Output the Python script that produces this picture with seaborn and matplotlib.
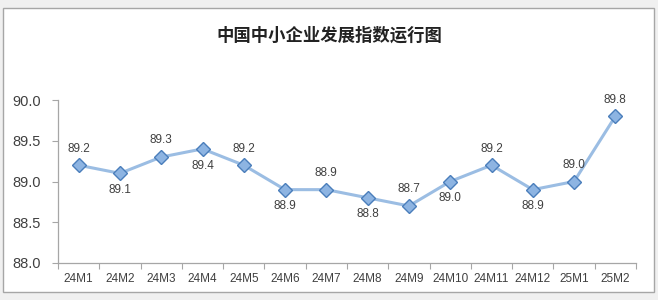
import matplotlib
matplotlib.use("Agg")
import matplotlib.pyplot as plt
import seaborn as sns
import pandas as pd
import numpy as np
from matplotlib.patches import Rectangle
from matplotlib import font_manager

months = ["24M1", "24M2", "24M3", "24M4", "24M5", "24M6", "24M7",
          "24M8", "24M9", "24M10", "24M11", "24M12", "25M1", "25M2"]
values = [89.2, 89.1, 89.3, 89.4, 89.2, 88.9, 88.9,
          88.8, 88.7, 89.0, 89.2, 88.9, 89.0, 89.8]
label_pos = ["above", "below", "above", "below", "above", "below", "above",
             "below", "above", "below", "above", "below", "above", "above"]
yticks = [88.0, 88.5, 89.0, 89.5, 90.0]

sns.set_theme(style="white")
plt.rcParams['font.family'] = ['Liberation Sans', 'DejaVu Sans']

installed = {f.name for f in font_manager.fontManager.ttflist}
narrow = "Liberation Sans Narrow" if "Liberation Sans Narrow" in installed else "Liberation Sans"
ytick_size = 12 if narrow == "Liberation Sans Narrow" else 10.5

df = pd.DataFrame({"month": months, "value": values})

fig = plt.figure(figsize=(6.58, 3.0), dpi=100)
fig.patch.set_facecolor("#f0f0f0")
frame = Rectangle((3/658, 8/300), 651/658, 284/300, transform=fig.transFigure,
                  facecolor="white", edgecolor="#a6a6a6", linewidth=1.0, zorder=-10)
fig.patches.append(frame)

ax = fig.add_axes([58/658, 1 - 263/300, (636 - 58)/658, (263 - 100)/300])
ax.set_zorder(5)
ax.set_facecolor("none")
ax.patch.set_alpha(0)
sns.lineplot(data=df, x="month", y="value", ax=ax, color="#9BBDE3", linewidth=2.2,
             marker="D", markersize=7, markerfacecolor="#8DB4E2",
             markeredgecolor="#4A7EBB", markeredgewidth=1.0, sort=False)

for i, (v, p) in enumerate(zip(values, label_pos)):
    off = 12 if p == "above" else -12
    ax.annotate(f"{v:.1f}", (i, v), xytext=(0, off), textcoords="offset points",
                ha="center", va="center", fontsize=8.5, color="#404040")

ax.set_xlim(-0.5, len(months) - 0.5)
ax.set_ylim(88.0, 90.0)
ax.set_yticks(yticks)
ax.set_yticklabels([f"{t:.1f}" for t in yticks], fontsize=ytick_size, color="#404040",
                   family=narrow)
ax.set_xticks(range(len(months)))
ax.set_xticklabels(months, fontsize=8.5, color="#404040")
ax.set_xticks(np.arange(-0.5, len(months), 1.0), minor=True)
ax.tick_params(axis="x", which="major", length=0, pad=7)
ax.tick_params(axis="x", which="minor", length=4, color="#a6a6a6", width=0.8, direction="out", bottom=True)
ax.tick_params(axis="y", which="major", length=4, color="#a6a6a6", width=0.8, direction="out", left=True, pad=8.5)
ax.set_xlabel("")
ax.set_ylabel("")
for s in ["top", "right"]:
    ax.spines[s].set_visible(False)
for s in ["left", "bottom"]:
    ax.spines[s].set_color("#a6a6a6")
    ax.spines[s].set_linewidth(0.9)

fig.text(329/658, 1 - 36/300, "中国中小企业发展指数运行图", ha="center", va="center",
         fontsize=12.5, fontweight="bold", color="#222222",
         family=["Noto Sans CJK SC", "DejaVu Sans"])

fig.savefig("out.png", dpi=100, facecolor=fig.get_facecolor())
